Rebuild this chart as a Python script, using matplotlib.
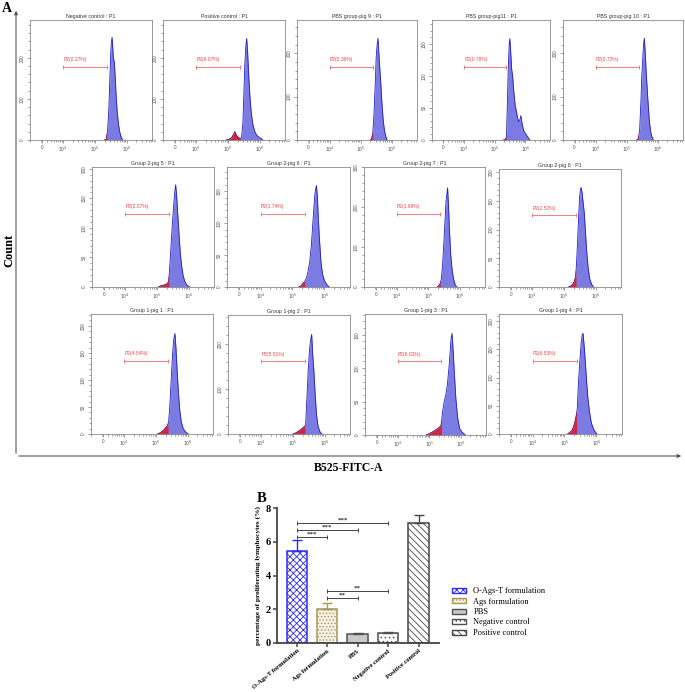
import numpy as np
import matplotlib
matplotlib.use("Agg")
import matplotlib.pyplot as plt
from matplotlib.patches import Patch, FancyArrowPatch
from matplotlib.ticker import MultipleLocator, FixedLocator

plt.rcParams['font.family'] = ['Liberation Sans', 'DejaVu Sans']
plt.rcParams['hatch.linewidth'] = 0.6

W, H = 685, 692

# ---- panel A : flow cytometry histograms ----
titles = ["Negative control : P1", "Positive control : P1", "PBS group-pig 9 : P1",
          "PBS group-pig11 : P1", "PBS group-pig 10 : P1",
          "Group 2-pig 5 : P1", "Group 2-pig 6 : P1", "Group 2-pig 7 : P1", "Group 2-pig 8 : P1",
          "Group 1-pig 1 : P1", "Group 1-pig 2 : P1", "Group 1-pig 3 : P1", "Group 1-pig 4 : P1"]
p2 = ["0.27", "6.07", "0.36", "0.78", "0.73",
      "2.07", "1.74", "1.68", "2.52",
      "4.54", "5.51", "6.02", "6.53"]
ymax = [292, 292, 277, 187, 277, 203, 188, 300, 206, 222, 264, 181, 213]
ystep = [100, 100, 100, 50, 100, 50, 50, 100, 50, 50, 100, 50, 50]

# x in decades (4 -> 10^4), counts
hist_u = [
    [5.30, 5.36, 5.40, 5.44, 5.47, 5.50, 5.52, 5.54, 5.56, 5.58, 5.61, 5.64, 5.67, 5.70, 5.74, 5.78, 5.83, 5.88],
    [4.95, 5.05, 5.12, 5.18, 5.22, 5.26, 5.30, 5.35, 5.40, 5.43, 5.47, 5.50, 5.53, 5.56, 5.59, 5.62, 5.65, 5.69, 5.73, 5.78, 5.84, 5.90, 5.96, 6.02, 6.10],
    [5.30, 5.34, 5.38, 5.42, 5.46, 5.49, 5.52, 5.55, 5.58, 5.61, 5.64, 5.67, 5.71, 5.75, 5.79, 5.84],
    [5.28, 5.34, 5.38, 5.41, 5.44, 5.47, 5.49, 5.52, 5.55, 5.58, 5.62, 5.66, 5.70, 5.74, 5.78, 5.82, 5.85, 5.89, 5.94, 6.00, 6.07, 6.14],
    [5.32, 5.37, 5.41, 5.45, 5.48, 5.51, 5.54, 5.56, 5.59, 5.62, 5.65, 5.68, 5.72, 5.76, 5.80, 5.85],
    [5.05, 5.12, 5.20, 5.27, 5.33, 5.37, 5.41, 5.45, 5.49, 5.53, 5.56, 5.59, 5.62, 5.66, 5.70, 5.74, 5.78, 5.83, 5.89, 5.95, 6.04],
    [5.20, 5.28, 5.33, 5.37, 5.40, 5.44, 5.49, 5.54, 5.59, 5.63, 5.67, 5.70, 5.73, 5.75, 5.78, 5.81, 5.85, 5.89, 5.94, 6.00, 6.07, 6.15],
    [5.28, 5.33, 5.37, 5.41, 5.45, 5.49, 5.53, 5.56, 5.59, 5.61, 5.64, 5.67, 5.71, 5.75, 5.80, 5.85, 5.90],
    [5.15, 5.22, 5.28, 5.33, 5.37, 5.40, 5.43, 5.46, 5.49, 5.52, 5.54, 5.57, 5.60, 5.64, 5.68, 5.72, 5.76, 5.81, 5.87, 5.93],
    [5.05, 5.13, 5.20, 5.26, 5.31, 5.36, 5.40, 5.44, 5.48, 5.52, 5.56, 5.60, 5.63, 5.67, 5.71, 5.75, 5.80, 5.86, 5.93, 6.02],
    [5.00, 5.08, 5.15, 5.21, 5.27, 5.32, 5.37, 5.40, 5.44, 5.48, 5.52, 5.55, 5.59, 5.62, 5.66, 5.70, 5.74, 5.79, 5.85, 5.92],
    [4.90, 5.00, 5.08, 5.15, 5.22, 5.28, 5.33, 5.37, 5.42, 5.47, 5.52, 5.57, 5.62, 5.66, 5.69, 5.72, 5.75, 5.79, 5.84, 5.90, 5.96, 6.04, 6.15],
    [5.10, 5.17, 5.23, 5.28, 5.32, 5.36, 5.40, 5.44, 5.48, 5.52, 5.55, 5.58, 5.61, 5.65, 5.69, 5.73, 5.78, 5.84, 5.90, 5.96, 6.02],
]
hist_c = [
    [0, 2, 25, 80, 150, 215, 240, 250, 228, 200, 190, 150, 105, 70, 40, 20, 6, 0],
    [0, 2, 6, 14, 20, 12, 8, 5, 3, 8, 40, 110, 180, 225, 247, 215, 165, 110, 70, 40, 22, 12, 8, 5, 0],
    [0, 2, 15, 60, 130, 190, 220, 235, 195, 160, 130, 90, 50, 25, 10, 0],
    [0, 1, 4, 60, 115, 150, 158, 135, 110, 100, 75, 55, 45, 35, 28, 32, 38, 25, 15, 10, 5, 0],
    [0, 3, 25, 90, 150, 190, 225, 235, 200, 155, 120, 85, 45, 20, 8, 0],
    [0, 2, 3, 4, 6, 9, 40, 75, 110, 140, 160, 173, 155, 120, 85, 55, 35, 18, 8, 3, 0],
    [0, 2, 6, 8, 10, 15, 25, 40, 65, 95, 125, 145, 155, 159, 140, 105, 70, 40, 20, 10, 4, 0],
    [0, 4, 8, 20, 55, 110, 170, 215, 235, 248, 200, 140, 80, 45, 20, 6, 0],
    [0, 2, 5, 10, 18, 45, 80, 120, 155, 170, 174, 165, 150, 130, 95, 60, 35, 15, 5, 0],
    [0, 2, 5, 8, 12, 15, 22, 55, 100, 145, 175, 186, 160, 115, 75, 45, 22, 10, 4, 0],
    [0, 2, 5, 8, 11, 14, 17, 20, 80, 140, 185, 205, 221, 180, 140, 90, 45, 18, 5, 0],
    [0, 2, 4, 6, 8, 10, 12, 14, 35, 50, 60, 75, 100, 125, 145, 152, 130, 95, 55, 25, 10, 4, 0],
    [0, 3, 6, 12, 20, 30, 45, 95, 130, 160, 175, 179, 160, 130, 95, 65, 40, 20, 10, 4, 0],
]

# axes boxes in pixels: left, top, right, bottom
rects = [(30, 20, 152, 140), (163, 20, 285, 140), (297, 20, 417, 140), (432, 20, 550, 140), (563, 20, 683, 140),
         (92, 167, 214, 287), (227, 167, 350, 287), (364, 167, 485, 287), (499, 169, 621, 287),
         (91, 314, 213, 434), (228, 315, 350, 434), (365, 314, 486, 435), (499, 314, 622, 434)]

# ---- panel B : bar chart ----
groups = ["O-Ags-T formulation", "Ags formulation", "PBS", "Negative control", "Positive control"]
means = [5.45, 2.03, 0.55, 0.57, 7.12]
err_up = [0.63, 0.36, 0.06, 0.10, 0.48]
sig = [(0, 3, 7.13, "***"), (0, 2, 6.72, "***"), (0, 1, 6.31, "***"),
       (1, 3, 3.06, "**"), (1, 2, 2.66, "**")]


def box(l, t, r, b):
    return [l / W, 1 - b / H, (r - l) / W, (b - t) / H]


fig = plt.figure(figsize=(W / 100, H / 100), dpi=100)

gate = 5.38
minor = [d + np.log10(k) for d in range(2, 7) for k in range(2, 10)]
for i in range(13):
    ax = fig.add_axes(box(*rects[i]))
    u = np.array(hist_u[i])
    c = np.array(hist_c[i], dtype=float)
    ax.fill_between(u, c, color='#7b7be2', lw=0)
    ax.plot(u, c, color='#1e1ec8', lw=0.6)
    m = u <= gate
    ur = np.append(u[m], gate)
    cr = np.append(c[m], np.interp(gate, u, c))
    ax.fill_between(ur, cr, color='#d8233c', lw=0)
    ax.plot(ur, cr, color='#b8102a', lw=0.5)
    tr = ax.get_xaxis_transform()
    ax.plot([4, gate], [0.61, 0.61], transform=tr, color='#f26a6a', lw=0.6,
            marker='|', markersize=3, markeredgewidth=0.6)
    ax.text(4.0, 0.655, "P2(" + p2[i] + "%)", transform=tr, fontsize=3.6, color='#f04848')
    ax.set_xlim(2.95, 6.8)
    ax.set_ylim(0, ymax[i])
    ax.set_xticks([3.32, 4, 5, 6])
    ax.set_xticklabels(["0", "$10^4$", "$10^5$", "$10^6$"])
    ax.xaxis.set_minor_locator(FixedLocator([v for v in minor if 2.95 < v < 6.8]))
    ax.yaxis.set_major_locator(MultipleLocator(ystep[i]))
    ax.yaxis.set_minor_locator(MultipleLocator(ystep[i] / 5))
    ax.tick_params(which='both', labelsize=3.3, colors='#555555', width=0.4, pad=1.5)
    ax.tick_params(which='major', length=2)
    ax.tick_params(which='minor', length=1.2)
    ax.tick_params(axis='y', labelrotation=90)
    for lab in ax.get_yticklabels():
        lab.set_verticalalignment('center')
    for s in ax.spines.values():
        s.set_color('#8a8a8a')
        s.set_linewidth(0.6)
    ax.set_title(titles[i], fontsize=3.8, pad=1.5, color='#333333')

# outer arrows and labels of panel A
fig.add_artist(FancyArrowPatch((16 / W, 1 - 456 / H), (16 / W, 1 - 8 / H), transform=fig.transFigure,
                               arrowstyle='-|>', mutation_scale=5, lw=0.8, color='#555555'))
fig.add_artist(FancyArrowPatch((16 / W, 1 - 456 / H), (684 / W, 1 - 456 / H), transform=fig.transFigure,
                               arrowstyle='-|>', mutation_scale=5, lw=0.8, color='#555555'))
serif = 'Liberation Serif'
fig.text(2 / W, 1 - 8 / H, "A", family=serif, weight='bold', fontsize=10, va='center', ha='left')
fig.text(9 / W, 1 - 250 / H, "Count", family=serif, weight='bold', fontsize=9, rotation=90,
         va='center', ha='center')
fig.text(349 / W, 1 - 468 / H, "B525-FITC-A", family=serif, weight='bold', fontsize=8.5,
         va='center', ha='center')

# panel B
axb = fig.add_axes(box(277, 508, 439, 643))
x = np.arange(5)
faces = ['white', '#f6f1e2', '#c9c9c9', 'white', 'white']
edges = ['#2b2bff', '#a8975c', '#505050', '#505050', '#454545']
hatches = ['xxxxx', '.....', '', '....', '\\\\\\\\\\']
for i in range(5):
    axb.bar(x[i], means[i], width=0.67, color=faces[i], edgecolor=edges[i], hatch=hatches[i],
            linewidth=1.1, zorder=2)
    axb.errorbar(x[i], means[i], yerr=[[0], [err_up[i]]], color=edges[i], capsize=3.5,
                 elinewidth=1.0, capthick=1.0, zorder=3)
for a, b, y, s in sig:
    axb.plot([a, b], [y, y], color='#444444', lw=0.7, marker='|', markersize=3, markeredgewidth=0.7)
    axb.text((a + b) / 2, y + 0.02, s, ha='center', va='bottom', fontsize=5, weight='bold',
             family=serif, color='#333333')
axb.set_xlim(-0.65, 4.67)
axb.set_ylim(0, 8)
axb.set_yticks([0, 2, 4, 6, 8])
axb.set_xticks(x)
axb.set_xticklabels(groups, rotation=40, ha='right', rotation_mode='anchor')
for lab in axb.get_xticklabels() + axb.get_yticklabels():
    lab.set_family(serif)
    lab.set_weight('bold')
axb.tick_params(axis='x', labelsize=4.7, length=3, width=1.1, color='#444444', pad=1)
axb.tick_params(axis='y', labelsize=7.5, length=3, width=1.1, color='#444444', pad=1.5)
axb.spines['top'].set_visible(False)
axb.spines['right'].set_visible(False)
for s in ['left', 'bottom']:
    axb.spines[s].set_linewidth(1.3)
    axb.spines[s].set_color('#444444')
axb.set_ylabel("percentage of proliferating lymphocytes (%)", family=serif, weight='bold',
               fontsize=5.3, labelpad=3)
fig.text(262 / W, 1 - 498 / H, "B", family=serif, weight='bold', fontsize=10.5, va='center', ha='center')

handles = [Patch(facecolor=faces[i], edgecolor=edges[i], hatch=hatches[i], linewidth=1.0) for i in range(5)]
fig.legend(handles, groups, loc='upper left', bbox_to_anchor=(452 / W, 1 - 587 / H), frameon=False,
           prop={'family': serif, 'size': 6}, handlelength=1.7, handleheight=0.55,
           labelspacing=0.3, handletextpad=0.85, borderpad=0, borderaxespad=0)

fig.savefig("out.png", dpi=100)
